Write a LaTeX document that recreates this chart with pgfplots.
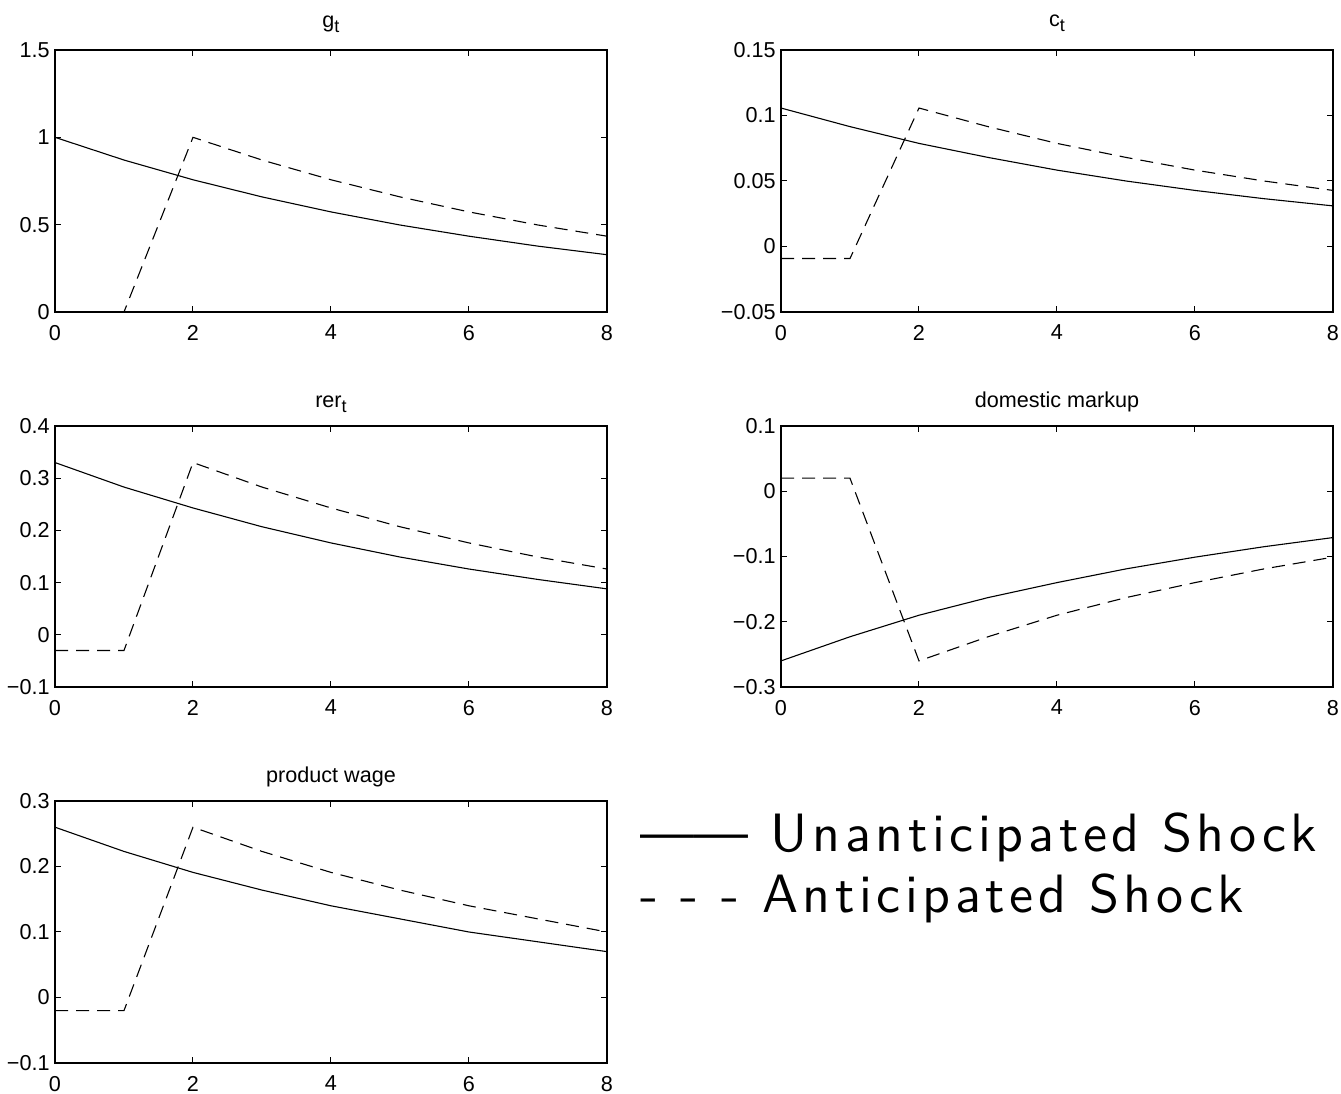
\documentclass[border=0pt]{standalone}
\usepackage{fontspec}
\setmainfont{Liberation Sans}
\newfontfamily\legplain{lmsans10-regular.otf}
\newfontfamily\legls{lmsans10-regular.otf}[LetterSpace=8.5]
\usepackage{pgfplots}
\pgfplotsset{compat=1.18}
\newcommand{\sub}[1]{\raisebox{-2.5pt}{\fontsize{9}{10}\selectfont #1}}
\pgfplotsset{
  irf/.style={
    scale only axis, width=276pt, height=131pt,
    anchor=south west,
    xmin=0, xmax=8, xtick={0,2,4,6,8}, xticklabels={0,2,4,6,8},
    tick align=inside, major tick length=3pt,
    tick style={black, line width=0.5pt},
    axis line style={black, line width=0.7pt},
    tick label style={font=\fontsize{10.8}{12}\selectfont},
    x tick label style={anchor=north, inner sep=0pt, yshift=-6.3pt},
    y tick label style={anchor=east, inner sep=0pt, xshift=-2.5pt},
    every axis title/.style={at={(0.5,1)}, anchor=base, font=\fontsize{10.8}{12}\selectfont},
  },
  sol/.style={black, solid, line width=0.55pt, mark=none},
  ant/.style={black, line width=0.55pt, mark=none, dash pattern=on 6.5pt off 4pt},
}
\begin{document}
\begin{tikzpicture}
\useasboundingbox (0,0) rectangle (670.5pt,547pt);
% g_t
\begin{axis}[irf, at={(27.5pt,391pt)}, ymin=0, ymax=1.5,
  ytick={0,0.5,1,1.5}, yticklabels={0,0.5,1,1.5},
  title={g\sub{t}}, title style={yshift=11pt}]
\addplot[sol] coordinates {(0,1)(1,0.87)(2,0.757)(3,0.659)(4,0.573)(5,0.498)(6,0.434)(7,0.377)(8,0.328)};
\addplot[ant] coordinates {(0,0)(1,0)(2,1)(3,0.87)(4,0.757)(5,0.659)(6,0.573)(7,0.498)(8,0.434)};
\end{axis}
% c_t
\begin{axis}[irf, at={(390.5pt,391pt)}, ymin=-0.05, ymax=0.15,
  ytick={-0.05,0,0.05,0.1,0.15}, yticklabels={−0.05,0,0.05,0.1,0.15},
  title={c\sub{t}}, title style={yshift=11.5pt}]
\addplot[sol] coordinates {(0,0.1057)(1,0.0915)(2,0.0787)(3,0.068)(4,0.0583)(5,0.050)(6,0.0428)(7,0.0365)(8,0.031)};
\addplot[ant] coordinates {(0,-0.0092)(1,-0.0092)(2,0.1057)(3,0.0915)(4,0.0787)(5,0.068)(6,0.0583)(7,0.050)(8,0.0428)};
\end{axis}
% rer_t
\begin{axis}[irf, at={(27.5pt,203.5pt)}, height=130.5pt, ymin=-0.1, ymax=0.4,
  ytick={-0.1,0,0.1,0.2,0.3,0.4}, yticklabels={−0.1,0,0.1,0.2,0.3,0.4},
  title={rer\sub{t}}, title style={yshift=9.5pt}]
\addplot[sol] coordinates {(0,0.33)(1,0.283)(2,0.243)(3,0.207)(4,0.176)(5,0.149)(6,0.126)(7,0.106)(8,0.088)};
\addplot[ant] coordinates {(0,-0.03)(1,-0.03)(2,0.33)(3,0.283)(4,0.243)(5,0.207)(6,0.176)(7,0.149)(8,0.126)};
\end{axis}
% domestic markup
\begin{axis}[irf, at={(390.5pt,203.5pt)}, height=130.5pt, ymin=-0.3, ymax=0.1,
  ytick={-0.3,-0.2,-0.1,0,0.1}, yticklabels={−0.3,−0.2,−0.1,0,0.1},
  title={domestic markup}, title style={yshift=9pt}]
\addplot[sol] coordinates {(0,-0.26)(1,-0.223)(2,-0.19)(3,-0.163)(4,-0.14)(5,-0.119)(6,-0.101)(7,-0.085)(8,-0.071)};
\addplot[ant] coordinates {(0,0.02)(1,0.02)(2,-0.26)(3,-0.223)(4,-0.19)(5,-0.163)(6,-0.14)(7,-0.119)(8,-0.101)};
\end{axis}
% product wage
\begin{axis}[irf, at={(27.5pt,15.5pt)}, ymin=-0.1, ymax=0.3,
  ytick={-0.1,0,0.1,0.2,0.3}, yticklabels={−0.1,0,0.1,0.2,0.3},
  title={product wage}, title style={yshift=9pt}]
\addplot[sol] coordinates {(0,0.26)(1,0.223)(2,0.191)(3,0.164)(4,0.14)(5,0.12)(6,0.1)(7,0.085)(8,0.07)};
\addplot[ant] coordinates {(0,-0.02)(1,-0.02)(2,0.26)(3,0.223)(4,0.191)(5,0.164)(6,0.14)(7,0.12)(8,0.1)};
\end{axis}
% legend text
\node[anchor=base west, inner sep=0pt, font=\fontsize{27}{32}\selectfont] at (320pt,121pt) {{\legplain ——}{\legls\ Unanticipated Shock}};
\node[anchor=base west, inner sep=0pt, font=\fontsize{27}{32}\selectfont] at (320pt,90.5pt) {{\legls - - - Anticipated Shock}};
\end{tikzpicture}
\end{document}
